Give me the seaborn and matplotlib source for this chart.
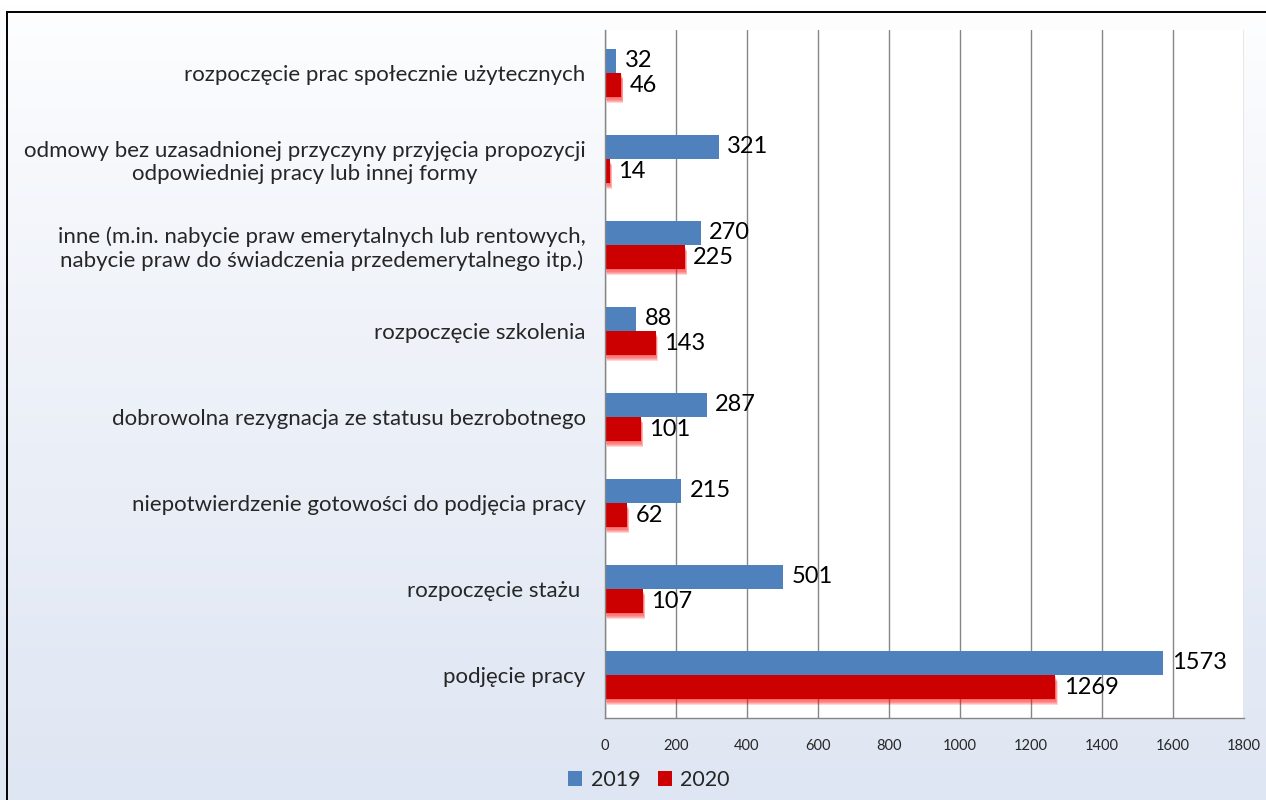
import matplotlib
matplotlib.use("Agg")
import matplotlib.pyplot as plt
import matplotlib.patheffects as pe
from matplotlib.patches import Rectangle, Patch
import numpy as np
import pandas as pd
import seaborn as sns

# data (top to bottom)
categories = [
    "rozpoczęcie prac społecznie użytecznych",
    "odmowy bez uzasadnionej przyczyny przyjęcia propozycji\nodpowiedniej pracy lub innej formy",
    "inne (m.in. nabycie praw emerytalnych lub rentowych,\nnabycie praw do świadczenia przedemerytalnego itp.)",
    "rozpoczęcie szkolenia",
    "dobrowolna rezygnacja ze statusu bezrobotnego",
    "niepotwierdzenie gotowości do podjęcia pracy",
    "rozpoczęcie stażu ",
    "podjęcie pracy",
]
values_2019 = [32, 321, 270, 88, 287, 215, 501, 1573]
values_2020 = [46, 14, 225, 143, 101, 62, 107, 1269]
years = ["2019", "2020"]
colors = {"2019": "#4F81BD", "2020": "#CC0000"}
x_ticks = list(range(0, 2000, 200))

df = pd.DataFrame({
    "category": categories * 2,
    "year": [years[0]] * len(categories) + [years[1]] * len(categories),
    "value": values_2019 + values_2020,
})

sns.set_style("white")
plt.rcParams["font.family"] = ["Lato", "DejaVu Sans"]

fig = plt.figure(figsize=(12.66, 8), dpi=100)

# light gradient background
bg = fig.add_axes([0, 0, 1, 1], zorder=-10)
grad = np.linspace(0, 1, 256).reshape(-1, 1)
top = np.array([1.0, 1.0, 1.0])
bot = np.array([0xDF, 0xE6, 0xF3]) / 255
img = top + (bot - top) * grad[..., None] ** 0.8
bg.imshow(img, aspect="auto", extent=[0, 1, 0, 1], origin="upper")
bg.axis("off")
fig.patches.append(Rectangle((7 / 1266, -0.1), 1.2, 0.985 + 0.1, transform=fig.transFigure,
                             fill=False, edgecolor="black", linewidth=1.4, zorder=5))

ax = fig.add_axes([605 / 1266, 82 / 800, (1244 - 605) / 1266, (770 - 82) / 800])
ax.set_facecolor("white")
sns.barplot(data=df, x="value", y="category", hue="year", orient="h",
            palette=colors, width=0.56, ax=ax, legend=False, saturation=1)

# soft red glow under the 2020 bars
glow = [pe.SimplePatchShadow(offset=(0.3 * k, -0.9 * k), shadow_rgbFace="#FF0000", alpha=0.16)
        for k in range(1, 6)]
for i, cont in enumerate(ax.containers):
    for bar in cont:
        bar.set_edgecolor("none")
        if i == 1:
            bar.set_path_effects(glow + [pe.Normal()])
    ax.bar_label(cont, padding=6, fontsize=17, color="black")

ax.set_xlim(0, 1800)
ax.set_ylim(len(categories) - 0.5, -0.5)
ax.set_xticks(x_ticks)
ax.xaxis.grid(True, color="#868686", linewidth=1)
ax.set_axisbelow(True)
ax.set_xlabel("")
ax.set_ylabel("")
for s in ["top", "right"]:
    ax.spines[s].set_visible(False)
for s in ["left", "bottom"]:
    ax.spines[s].set_color("#868686")
    ax.spines[s].set_linewidth(1)

ax.tick_params(axis="x", direction="out", length=5, color="#868686", labelsize=10.5, pad=10)
ax.tick_params(axis="y", which="major", length=0, pad=14, labelsize=16)
ax.set_yticks(np.arange(-0.5, len(categories), 1), minor=True)
ax.tick_params(axis="y", which="minor", direction="out", length=6, color="#868686")
for lab in ax.get_yticklabels():
    lab.set_multialignment("center")

handles = [Patch(facecolor=colors[y], edgecolor="none", label=y) for y in years]
fig.legend(handles=handles, loc="center", bbox_to_anchor=(649 / 1266, 1 - 780 / 800), ncol=2,
           frameon=False, fontsize=15.5, handlelength=0.65, handleheight=0.65,
           handletextpad=0.4, columnspacing=0.8)

fig.savefig("out.png", dpi=100)
